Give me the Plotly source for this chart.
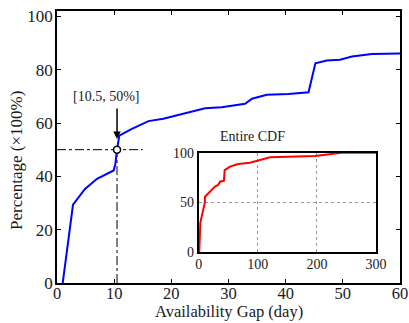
import plotly.graph_objects as go

# Main CDF (zoomed, 0-60 days)
gap_days = [1, 2.8, 4.9, 7.0, 9.9, 10.2, 10.5, 10.9, 13.1, 16.0, 18.6, 22.7, 25.9, 28.8,
            32.9, 34.1, 36.7, 40.5, 44.0, 45.2, 47.2, 49.5, 51.6, 55.1, 60]
percent = [0, 29.4, 35.3, 39.1, 42.2, 44.5, 50, 55.3, 57.8, 60.7, 61.6, 63.7, 65.5, 65.9,
           67.2, 69.1, 70.6, 70.9, 71.5, 82.4, 83.4, 83.7, 84.9, 85.9, 86.1]

# Entire CDF (inset, 0-300 days)
full_days = [1, 2.8, 4.9, 7.9, 10.5, 10.7, 19, 27.6, 33, 36, 42.8, 44, 53, 67, 86.8, 98,
             120.6, 196.8, 242, 300]
full_percent = [0, 29.4, 35.3, 42.5, 50, 55.8, 60.8, 65.9, 67.6, 70.9, 71.9, 82.6, 86, 88.7,
                90, 92, 95.4, 96.7, 100, 100]

marker_x = [10.5]
marker_y = [50]
annot_text = "[10.5, 50%]"
x_title = "Availability Gap (day)"
y_title = "Percentage (×100%)"
inset_title = "Entire CDF"

FONT = "Liberation Serif"
TXT = "#1a1a1a"

fig = go.Figure()

# guide lines
fig.add_trace(go.Scatter(x=[0, 15], y=[50, 50], mode="lines",
                         line=dict(color="black", width=1, dash="dashdot"),
                         showlegend=False, hoverinfo="skip"))
fig.add_trace(go.Scatter(x=[10.5, 10.5], y=[0, 50], mode="lines",
                         line=dict(color="black", width=1, dash="dashdot"),
                         showlegend=False, hoverinfo="skip"))

fig.add_trace(go.Scatter(x=gap_days, y=percent, mode="lines",
                         line=dict(color="#0000ff", width=2), showlegend=False))

fig.add_trace(go.Scatter(x=marker_x, y=marker_y, mode="markers",
                         marker=dict(symbol="circle", size=7, color="white",
                                     line=dict(color="black", width=1.5)),
                         showlegend=False))

fig.add_trace(go.Scatter(x=full_days, y=full_percent, mode="lines",
                         line=dict(color="#ff0000", width=2), showlegend=False,
                         xaxis="x2", yaxis="y2"))

fig.add_annotation(x=10.5, y=54, ax=10.5, ay=66, xref="x", yref="y", axref="x", ayref="y",
                   showarrow=True, arrowhead=2, arrowsize=1, arrowwidth=1.5,
                   arrowcolor="black", text="")
fig.add_annotation(x=8.6, y=69.9, xref="x", yref="y", text=annot_text, showarrow=False,
                   font=dict(family=FONT, size=14, color=TXT))

fig.add_annotation(x=0.5 * (0.413 + 0.930), y=0.537, xref="paper", yref="paper",
                   text=inset_title, showarrow=False, yanchor="middle",
                   font=dict(family=FONT, size=14, color=TXT))

fig.add_annotation(x=0.5015, y=-0.1066, xref="paper", yref="paper", text=x_title,
                   showarrow=False, yanchor="middle", xanchor="center",
                   font=dict(family=FONT, size=16.5, color=TXT))
fig.add_annotation(x=-0.1195, y=0.4485, xref="paper", yref="paper", text=y_title,
                   showarrow=False, yanchor="middle", xanchor="center", textangle=-90,
                   font=dict(family=FONT, size=17, color=TXT))

axis_common = dict(showline=True, linecolor="black", linewidth=1.5, mirror="ticks",
                   ticks="inside", ticklen=4, tickwidth=1, tickcolor="black",
                   showgrid=False, zeroline=False, automargin=False)

inset_common = dict(showline=True, linecolor="black", linewidth=1.5, mirror=True,
                    ticks="", showgrid=True, gridcolor="#999", griddash="dot",
                    gridwidth=1, zeroline=False, automargin=False,
                    tickfont=dict(family=FONT, size=14, color=TXT))

fig.update_layout(
    template="none",
    width=409, height=323,
    margin=dict(l=57, r=9, t=11, b=40),
    paper_bgcolor="white", plot_bgcolor="white",
    xaxis=dict(range=[0, 60], tickvals=[0, 10, 20, 30, 40, 50, 60],
               ticklabelstandoff=-6, tickfont=dict(family=FONT, size=16.5, color=TXT),
               **axis_common),
    yaxis=dict(range=[0, 102], tickvals=[0, 20, 40, 60, 80, 100],
               ticklabelstandoff=-1, tickfont=dict(family=FONT, size=17, color=TXT),
               **axis_common),
    xaxis2=dict(domain=[0.413, 0.930], anchor="y2", range=[0, 300],
                tickvals=[0, 100, 200, 300], ticklabelstandoff=-2, **inset_common),
    yaxis2=dict(domain=[0.113, 0.479], anchor="x2", range=[0, 100],
                tickvals=[0, 50, 100], **inset_common),
    shapes=[dict(type="rect", xref="paper", yref="paper", x0=0.413, x1=0.930,
                 y0=0.113, y1=0.479, fillcolor="white", line=dict(width=0), layer="below")],
)

fig.write_html("out.html")
